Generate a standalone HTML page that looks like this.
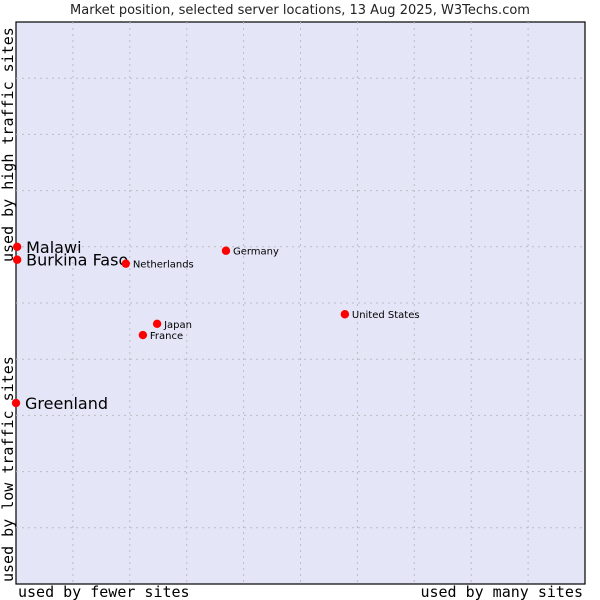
<!DOCTYPE html>
<html><head><meta charset="utf-8"><style>
body{margin:0;background:#fff}
svg{display:block}
</style></head><body>
<svg id="c" width="600" height="600" xmlns="http://www.w3.org/2000/svg">
<text x="300" y="14" text-anchor="middle" font-family="DejaVu Sans, sans-serif" font-size="13" fill="#222">Market position, selected server locations, 13 Aug 2025, W3Techs.com</text>
<rect x="16" y="22" width="569" height="562" fill="#e4e6f8" stroke="#000" stroke-width="1.2"/>
<g id="grid"></g>
<text x="18" y="597" font-family="DejaVu Sans Mono, Liberation Mono, monospace" font-size="15" fill="#000">used by fewer sites</text>
<text x="583" y="597" text-anchor="end" font-family="DejaVu Sans Mono, Liberation Mono, monospace" font-size="15" fill="#000">used by many sites</text>
<text transform="translate(13,582) rotate(-90)" font-family="DejaVu Sans Mono, Liberation Mono, monospace" font-size="15" fill="#000">used by low traffic sites</text>
<text transform="translate(13,262) rotate(-90)" font-family="DejaVu Sans Mono, Liberation Mono, monospace" font-size="15" fill="#000">used by high traffic sites</text>
<g id="pts"></g>
</svg>
<script>
const names=["Malawi","Burkina Faso","Greenland","Netherlands","Germany","United States","Japan","France"];
const xVals=[0.2,0.2,0,19.3,36.9,57.8,24.8,22.3];
const yVals=[60.0,57.7,32.2,57.0,59.3,48.0,46.3,44.3];
const big=[true,true,true,false,false,false,false,false];
const X0=16,W=569,Y0=22,H=562;
const sx=v=>X0+v/100*W, sy=v=>Y0+H-v/100*H;
const NS="http://www.w3.org/2000/svg";
const grid=document.getElementById('grid');
for(let i=1;i<10;i++){
 const v=document.createElementNS(NS,'line');
 
 
 v.setAttribute('x1',sx(i*10));v.setAttribute('x2',sx(i*10));v.setAttribute('y1',Y0);v.setAttribute('y2',Y0+H);
 v.setAttribute('stroke','#bcbcc4');v.setAttribute('stroke-dasharray','2,4');grid.appendChild(v);
 const h=document.createElementNS(NS,'line');
 
 
 h.setAttribute('y1',sy(i*10));h.setAttribute('y2',sy(i*10));h.setAttribute('x1',X0);h.setAttribute('x2',X0+W);
 h.setAttribute('stroke','#bcbcc4');h.setAttribute('stroke-dasharray','2,4');grid.appendChild(h);
}
const pts=document.getElementById('pts');
names.forEach((n,i)=>{
 const x=sx(xVals[i]),y=sy(yVals[i]);
 const p=document.createElementNS(NS,'circle');
 
 
 p.setAttribute('cx',x);p.setAttribute('cy',y);p.setAttribute('r',4.2);
 p.setAttribute('fill','#f00');pts.appendChild(p);
 const t=document.createElementNS(NS,'text');
 
 
 t.setAttribute('x',x+(big[i]?9:7));t.setAttribute('y',y+(big[i]?6:4));
 t.setAttribute('font-family','DejaVu Sans, sans-serif');
 t.setAttribute('font-size',big[i]?16:10);t.setAttribute('fill','#000');
 t.textContent=n;pts.appendChild(t);
});
</script>
</body></html>
